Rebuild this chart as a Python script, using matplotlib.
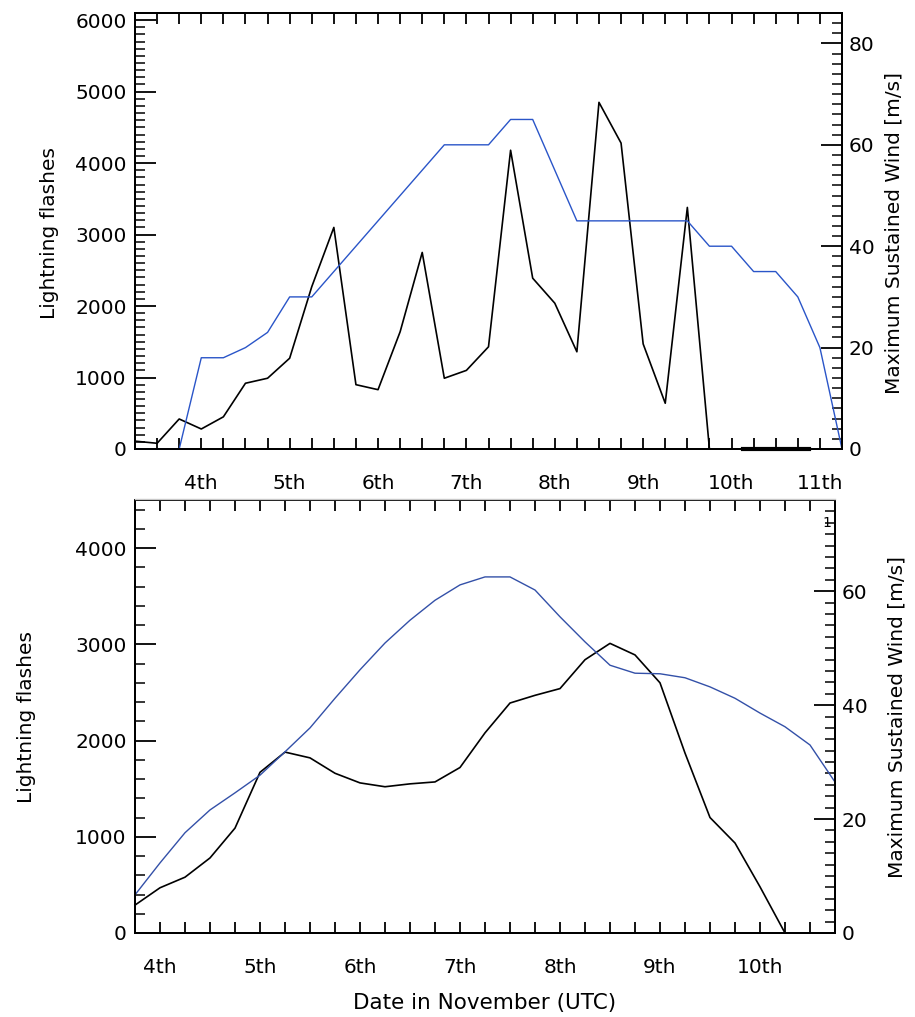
import matplotlib
matplotlib.use("Agg")
import matplotlib.pyplot as plt
from matplotlib.ticker import MultipleLocator, FixedLocator, FixedFormatter
from matplotlib.lines import Line2D

# ---------------- data ----------------
# Top panel: 6-hourly lightning flashes and best-track maximum wind
top_flash_time = [3.25, 3.5, 3.75, 4.0, 4.25, 4.5, 4.75, 5.0, 5.25, 5.5, 5.75,
                  6.0, 6.25, 6.5, 6.75, 7.0, 7.25, 7.5, 7.75, 8.0, 8.25, 8.5,
                  8.75, 9.0, 9.25, 9.5, 9.75]
top_flashes = [110, 80, 420, 280, 450, 920, 990, 1270, 2270, 3100, 900,
               830, 1640, 2750, 990, 1100, 1430, 4180, 2390, 2040, 1360, 4850,
               4280, 1470, 640, 3380, 0]
top_zero_time = [10.125, 10.875]
top_zero_flashes = [0, 0]

top_wind_time = [3.25, 3.5, 3.75, 4.0, 4.25, 4.5, 4.75, 5.0, 5.25, 5.5, 5.75,
                 6.0, 6.25, 6.5, 6.75, 7.0, 7.25, 7.5, 7.75, 8.0, 8.25, 8.5,
                 8.75, 9.0, 9.25, 9.5, 9.75, 10.0, 10.25, 10.5, 10.75, 11.0, 11.25]
top_wind = [0, 0, 0, 18, 18, 20, 23, 30, 30, 35, 40,
            45, 50, 55, 60, 60, 60, 65, 65, 55, 45, 45,
            45, 45, 45, 45, 40, 40, 35, 35, 30, 20, 0]

# Bottom panel: smoothed series
bot_time = [3.75, 4.0, 4.25, 4.5, 4.75, 5.0, 5.25, 5.5, 5.75, 6.0, 6.25,
            6.5, 6.75, 7.0, 7.25, 7.5, 7.75, 8.0, 8.25, 8.5, 8.75, 9.0,
            9.25, 9.5, 9.75, 10.0, 10.25, 10.5, 10.75]
bot_flashes = [290, 470, 580, 780, 1090, 1670, 1880, 1820, 1660, 1560, 1520,
               1550, 1570, 1720, 2080, 2390, 2470, 2540, 2840, 3010, 2890, 2600,
               1870, 1200, 935, 480, 0, 0, 0]
bot_wind = [6.7, 12.3, 17.6, 21.6, 24.6, 27.7, 31.8, 36.0, 41.2, 46.2, 50.9,
            54.9, 58.4, 61.1, 62.5, 62.5, 60.2, 55.5, 51.1, 47.0, 45.6, 45.5,
            44.8, 43.2, 41.2, 38.6, 36.2, 33.0, 26.5]

top_day_ticks = [4, 5, 6, 7, 8, 9, 10, 11]
top_day_labels = ["4th", "5th", "6th", "7th", "8th", "9th", "10th", "11th"]
bot_day_ticks = [4, 5, 6, 7, 8, 9, 10]
bot_day_labels = ["4th", "5th", "6th", "7th", "8th", "9th", "10th"]

# ---------------- style ----------------
W, H = 915, 1017
plt.rcParams['font.family'] = ['DejaVu Sans']
FS = 14.5
BLUE_TOP = '#2a55c8'
BLUE_BOT = '#3350a8'
LW = 1.0

fig = plt.figure(figsize=(W / 100, H / 100), dpi=100)


def px_rect(x0, y0, x1, y1):
    return [x0 / W, 1 - y1 / H, (x1 - x0) / W, (y1 - y0) / H]


def style_axes(ax, twin, xmin, xmax, day_ticks, day_labels,
               lmaj, lmin, rmaj, rmin):
    ax.set_xlim(xmin, xmax)
    ax.xaxis.set_major_locator(MultipleLocator(0.25))
    ax.xaxis.set_major_formatter(plt.NullFormatter())
    ax.tick_params(axis='x', which='major', direction='in', length=8, width=1.3,
                   top=True, bottom=True)
    # day labels placed on a secondary set of positions
    sec = ax.secondary_xaxis('bottom')
    sec.xaxis.set_major_locator(FixedLocator(day_ticks))
    sec.xaxis.set_major_formatter(FixedFormatter(day_labels))
    sec.tick_params(length=0, pad=18, labelsize=FS)
    sec.spines['bottom'].set_visible(False)

    ax.yaxis.set_major_locator(MultipleLocator(lmaj))
    ax.yaxis.set_minor_locator(MultipleLocator(lmin))
    ax.tick_params(axis='y', which='major', direction='in', length=15, width=1.3,
                   left=True, right=False, labelsize=FS, pad=6)
    ax.tick_params(axis='y', which='minor', direction='in', length=7, width=1.1,
                   left=True, right=False)

    twin.yaxis.set_major_locator(MultipleLocator(rmaj))
    twin.yaxis.set_minor_locator(MultipleLocator(rmin))
    twin.tick_params(axis='y', which='major', direction='in', length=15, width=1.3,
                     right=True, left=False, labelsize=FS, pad=5)
    twin.tick_params(axis='y', which='minor', direction='in', length=7, width=1.1,
                     right=True, left=False)
    for a in (ax, twin):
        for s in a.spines.values():
            s.set_linewidth(1.4)


# ---------------- top panel ----------------
ax1 = fig.add_axes(px_rect(135, 13, 842, 449))
ax1r = ax1.twinx()
ax1.set_ylim(0, 6100)
ax1r.set_ylim(0, 86)
style_axes(ax1, ax1r, 3.25, 11.25, top_day_ticks, top_day_labels, 1000, 100, 20, 2)
ax1.plot(top_flash_time, top_flashes, color='black', lw=LW + 0.2, clip_on=False)
ax1.plot(top_zero_time, top_zero_flashes, color='black', lw=3.0, clip_on=False)
ax1r.plot(top_wind_time, top_wind, color=BLUE_TOP, lw=LW, clip_on=False)

# ---------------- bottom panel ----------------
ax2 = fig.add_axes(px_rect(135, 500, 835, 933))
ax2r = ax2.twinx()
ax2.set_ylim(0, 4500)
ax2r.set_ylim(0, 76)
style_axes(ax2, ax2r, 3.75, 10.75, bot_day_ticks, bot_day_labels, 1000, 200, 20, 2)
ax2.plot(bot_time, bot_flashes, color='black', lw=LW + 0.2, clip_on=False)
ax2r.plot(bot_time, bot_wind, color=BLUE_BOT, lw=LW, clip_on=False)
ax2r.text(0.995, 72, "1", transform=ax2r.get_yaxis_transform(),
          ha='right', va='center', fontsize=10)

# ---------------- axis titles ----------------
fig.text(50 / W, 1 - 233 / H, "Lightning flashes", rotation=90,
         ha='center', va='center', fontsize=FS)
fig.text(894 / W, 1 - 233 / H, "Maximum Sustained Wind [m/s]", rotation=90,
         ha='center', va='center', fontsize=FS)
fig.text(27 / W, 1 - 717 / H, "Lightning flashes", rotation=90,
         ha='center', va='center', fontsize=FS)
fig.text(897 / W, 1 - 717 / H, "Maximum Sustained Wind [m/s]", rotation=90,
         ha='center', va='center', fontsize=FS)
fig.text(485 / W, 1 - 1003 / H, "Date in November (UTC)",
         ha='center', va='center', fontsize=FS + 1)

# faint separator under the upper panel's labels
fig.add_artist(Line2D([135 / W, 835 / W], [1 - 499 / H, 1 - 499 / H],
                      color='#c8c8c8', lw=1.0))

fig.savefig("out.png", dpi=100)
